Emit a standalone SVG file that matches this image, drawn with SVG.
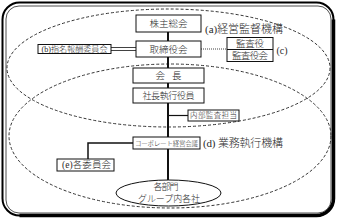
<svg xmlns="http://www.w3.org/2000/svg" width="338" height="220" viewBox="0 0 338 220">
<style>
.box{fill:#fff;stroke:#111;stroke-width:1}
.t{font-family:"Liberation Serif","Noto Sans CJK JP",serif;font-weight:300;fill:#2a2a2a;text-anchor:middle;dominant-baseline:central}
.dash{fill:none;stroke:#333;stroke-width:1;stroke-dasharray:3 2}
.ln{fill:none;stroke:#111}
</style>
<rect x="6" y="6" width="325" height="207" rx="13" fill="none" stroke="#222" stroke-width="0.8"/>
<rect x="2.5" y="2.5" width="331" height="213" rx="17" fill="none" stroke="#000" stroke-width="2"/>
<path d="M333.5 19.5 V198.5 A17 17 0 0 1 316.5 215.5 H19.5" fill="none" stroke="#000" stroke-width="3.5"/>
<g id="regions">
<ellipse class="dash" cx="168.5" cy="68" rx="161.5" ry="59"/>
<ellipse class="dash" cx="170" cy="136" rx="161" ry="72"/>
</g>
<g id="connectors">
<line class="ln" x1="168" y1="32" x2="168" y2="180" stroke-width="2"/>
<line class="ln" x1="111" y1="47.5" x2="136" y2="47.5" stroke-width="0.8"/>
<line class="ln" x1="111" y1="50.5" x2="136" y2="50.5" stroke-width="0.8"/>
<line class="ln" x1="201" y1="49" x2="227" y2="49" stroke-width="0.8" stroke-dasharray="1 1"/>
<line class="ln" x1="168" y1="115.5" x2="188" y2="115.5" stroke-width="1.2"/>
<polyline class="ln" points="133,143 88,143 88,159" stroke-width="1.5"/>
</g>
<g id="shareholders"><rect class="box" x="136" y="15" width="65" height="17"/><text class="t" x="168.5" y="24" font-size="9.5" textLength="38" lengthAdjust="spacing">株主総会</text></g>
<g id="label-a"><text class="t" x="244" y="29" font-size="11" textLength="78" lengthAdjust="spacing">(a)経営監督機構</text></g>
<g id="board"><rect class="box" x="136" y="41" width="65" height="16"/><text class="t" x="168.5" y="49.5" font-size="9.5" textLength="38" lengthAdjust="spacing">取締役会</text></g>
<g id="nomination"><rect class="box" x="38" y="44.5" width="73" height="9"/><text class="t" x="74.5" y="49.5" font-size="8" textLength="66" lengthAdjust="spacingAndGlyphs">(b)指名報酬委員会</text></g>
<g id="auditors"><rect class="box" x="227" y="37.5" width="46" height="24"/><line class="ln" x1="227" y1="49.5" x2="273" y2="49.5" stroke-width="1"/><text class="t" x="250" y="44" font-size="9.5" textLength="28" lengthAdjust="spacing">監査役</text><text class="t" x="250" y="56" font-size="9.5" textLength="36" lengthAdjust="spacing">監査役会</text></g>
<g id="label-c"><text class="t" x="282" y="50" font-size="10">(c)</text></g>
<g id="chairman"><rect class="box" x="133" y="68" width="71" height="15"/><text class="t" x="168.5" y="76" font-size="9.5" textLength="26" lengthAdjust="spacing">会長</text></g>
<g id="president"><rect class="box" x="133" y="88" width="71" height="15"/><text class="t" x="168.5" y="96" font-size="9" textLength="52" lengthAdjust="spacing">社長執行役員</text></g>
<g id="audit-dept"><rect class="box" x="188" y="110" width="51" height="11"/><text class="t" x="213.5" y="115.8" font-size="7.5" textLength="47" lengthAdjust="spacing">内部監査担当</text></g>
<g id="corp-mgmt"><rect class="box" x="133" y="137" width="67" height="12"/><text class="t" x="166.5" y="143.2" font-size="6.5" textLength="63" lengthAdjust="spacing">コーポレート経営会議</text></g>
<g id="label-d"><text class="t" x="243" y="143" font-size="11" textLength="80" lengthAdjust="spacing">(d) 業務執行機構</text></g>
<g id="committees"><rect class="box" x="57" y="159" width="57" height="12"/><text class="t" x="86.5" y="165.3" font-size="9.5" textLength="49" lengthAdjust="spacing">(e)各委員会</text></g>
<g id="divisions"><ellipse class="box" cx="168.5" cy="193" rx="52.5" ry="13"/><text class="t" x="166" y="186.5" font-size="9" textLength="25" lengthAdjust="spacing">各部門</text><text class="t" x="169" y="198.5" font-size="9" textLength="62" lengthAdjust="spacing">グループ内各社</text></g>
</svg>
